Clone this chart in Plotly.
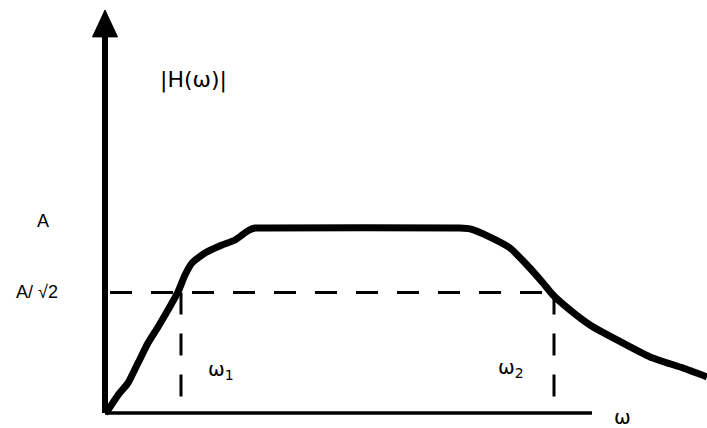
import plotly.graph_objects as go

# band-pass magnitude response (omega in arbitrary units, |H| in units of A)
omega = [0, 3, 13, 23, 33, 43, 53, 63, 73, 80, 87, 100, 117, 130, 143, 150, 160,
         355, 365, 385, 405, 422, 438, 448, 465, 485, 512, 545, 578, 602]
mag = [0, 0.016, 0.097, 0.162, 0.270, 0.378, 0.465, 0.557, 0.654, 0.746, 0.811,
       0.865, 0.908, 0.935, 0.985, 1.0, 1.0,
       1.0, 0.995, 0.951, 0.892, 0.800, 0.703, 0.638, 0.557, 0.476, 0.395, 0.303, 0.243, 0.195]

cutoff_level = 0.651      # A/sqrt(2) line as drawn
cutoffs = [76, 449]       # omega1, omega2
cutoff_names = ["ω<sub>1</sub>", "ω<sub>2</sub>"]

x_axis_end = 487
y_axis_top = 2.043
arrow_tip = 2.178
arrow_half = 12.5

ARIAL = "Liberation Sans, Arial, sans-serif"
DEJAVU = "DejaVu Sans, sans-serif"

fig = go.Figure()

# axes drawn by hand
fig.add_trace(go.Scatter(x=[0, 0], y=[0, y_axis_top], mode="lines",
                         line=dict(color="black", width=6)))
fig.add_trace(go.Scatter(x=[-arrow_half, arrow_half, 0, -arrow_half],
                         y=[y_axis_top - 0.01, y_axis_top - 0.01, arrow_tip, y_axis_top - 0.01],
                         mode="lines", fill="toself", fillcolor="black",
                         line=dict(color="black", width=1)))
fig.add_trace(go.Scatter(x=[0, x_axis_end], y=[0, 0], mode="lines",
                         line=dict(color="black", width=3.5)))

# dashed guides
fig.add_trace(go.Scatter(x=[5, cutoffs[1]], y=[cutoff_level, cutoff_level], mode="lines",
                         line=dict(color="black", width=3, dash="22px,19px")))
for c in cutoffs:
    fig.add_trace(go.Scatter(x=[c, c], y=[cutoff_level, 0], mode="lines",
                             line=dict(color="black", width=3, dash="22px,19px")))

# response curve
fig.add_trace(go.Scatter(x=omega, y=mag, mode="lines",
                         line=dict(color="black", width=7, shape="spline", smoothing=0.5)))

labels = [
    ("|H(ω)|", 88, 1.80, DEJAVU, 22),
    ("A", -62, 1.04, ARIAL, 18),
    ("A/ √2", -68, 0.654, ARIAL, 18),
    (cutoff_names[0], 116, 0.235, DEJAVU, 20),
    (cutoff_names[1], 406, 0.245, DEJAVU, 20),
    ("ω", 517, -0.02, DEJAVU, 20),
]
for text, x, y, fam, size in labels:
    fig.add_annotation(x=x, y=y, text=text, showarrow=False,
                       font=dict(family=fam, size=size, color="black"))

fig.update_layout(
    width=707, height=428,
    margin=dict(l=0, r=0, t=0, b=0),
    paper_bgcolor="white", plot_bgcolor="white",
    showlegend=False,
    xaxis=dict(range=[-105, 602], visible=False, fixedrange=True),
    yaxis=dict(range=[-0.0811, 2.2324], visible=False, fixedrange=True),
)

# drop the default page margin so the figure sits at the window corner
fig.write_html("out.html", config={"displayModeBar": False},
               post_script="document.body.style.margin='0px';")
